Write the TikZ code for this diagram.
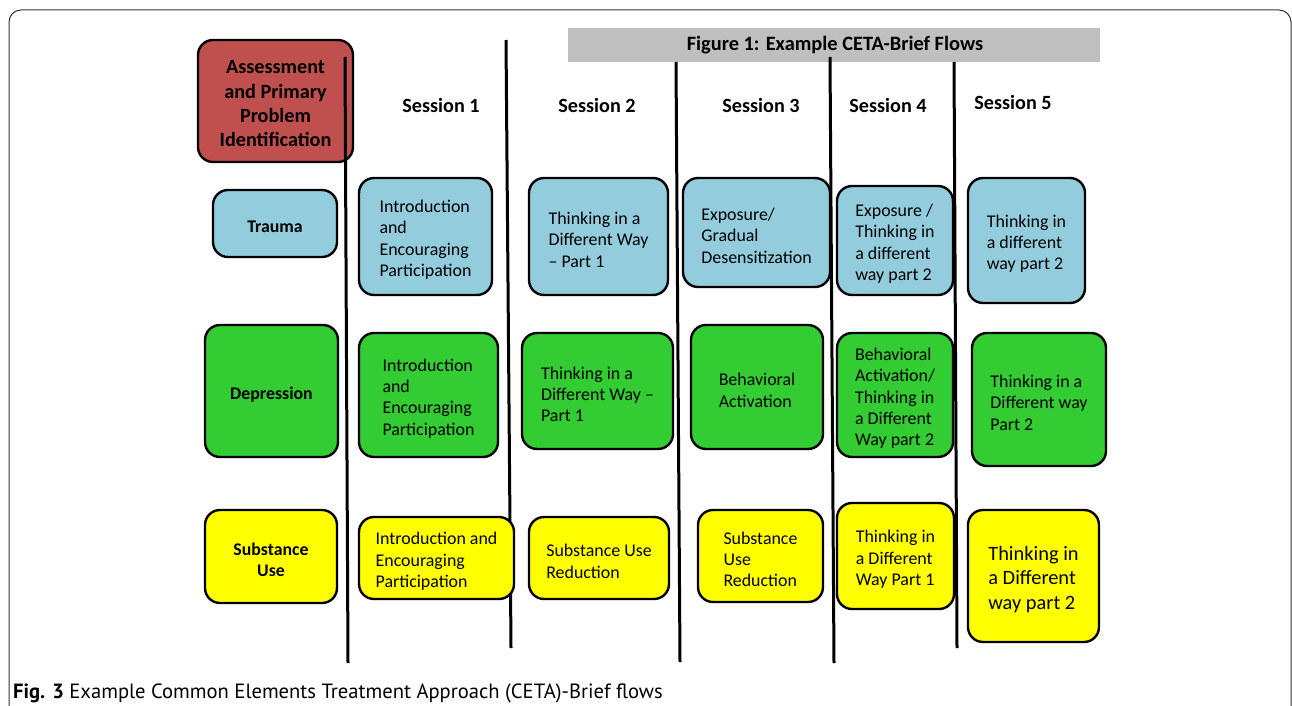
\documentclass[tikz,border=0pt]{standalone}
\usepackage{fontspec}
\setmainfont{Carlito}
\newfontfamily\capfont{PT Sans}
\definecolor{traumablue}{HTML}{93CDDD}
\definecolor{deprgreen}{HTML}{33CC33}
\definecolor{subyellow}{HTML}{FFFF00}
\definecolor{assessred}{HTML}{C0504D}
\definecolor{bargray}{HTML}{BFBFBF}
% extra room above the first line of a card, so its text sits a little lower
\newcommand\cardtop{\rule{0pt}{19pt}}
\begin{document}
\begin{tikzpicture}[x=1pt,y=-1pt,
  card/.style={draw=black, line width=2.4pt, rounded corners=15pt, align=left,
    inner sep=0pt, font=\fontsize{17.9}{21.3}\selectfont},
  rowlabel/.style={card, align=center, font=\fontsize{17.8}{20.5}\selectfont\bfseries},
  bluecard/.style={card, fill=traumablue},
  greencard/.style={card, fill=deprgreen},
  yellowcard/.style={card, fill=subyellow},
  session/.style={font=\fontsize{20.2}{24}\selectfont\bfseries, inner sep=0pt},
  divider/.style={line width=3pt, black}]
\useasboundingbox (0,0) rectangle (1292,706);

% outer frame
\draw[line width=1pt, black!80, rounded corners=12pt] (9,720) -- (9,10) -- (1291,10) -- (1291,720);

% title bar
\node[fill=bargray, minimum width=532pt, minimum height=34pt, inner sep=0pt]
  (bar) at (834,45) {};
\node[font=\fontsize{20.4}{24}\selectfont\bfseries] (title) at (835,45.5) {Figure 1: Example CETA-Brief Flows};

% assessment box
\node[card, fill=assessred, align=center, minimum width=155pt, minimum height=122pt,
  font=\fontsize{20.2}{24.3}\selectfont\bfseries] (assess) at (275.5,101)
  {\cardtop Assessment\\and Primary\\Problem\\Identification};

% session dividers
\coordinate (d1t) at (345,57);  \coordinate (d1b) at (348,663);
\coordinate (d2t) at (506,40);  \coordinate (d2b) at (511,648);
\coordinate (d3t) at (676,62);  \coordinate (d3b) at (680,662);
\coordinate (d4t) at (830,57);  \coordinate (d4b) at (834,663);
\coordinate (d5t) at (954,62);  \coordinate (d5b) at (957,648);
\foreach \i in {1,...,5} \draw[divider] (d\i t) -- (d\i b);

% session headings
\node[session] (s1) at (441,105) {Session 1};
\node[session] (s2) at (597,105) {Session 2};
\node[session] (s3) at (761,105) {Session 3};
\node[session] (s4) at (888,105) {Session 4};
\node[session] (s5) at (1013,102) {Session 5};

% row labels
\node[rowlabel, fill=traumablue, minimum width=124pt, minimum height=67pt] (trauma) at (275,223.5) {\cardtop Trauma};
\node[rowlabel, fill=deprgreen, minimum width=133pt, minimum height=132pt] (depr) at (271.5,391) {\cardtop Depression};
\node[rowlabel, fill=subyellow, minimum width=132pt, minimum height=93pt] (subst) at (271,556.5) {\cardtop Substance\\Use};

% trauma row
\node[bluecard, minimum width=133pt, minimum height=117pt] (t1) at (425.5,236.5)
  {\cardtop Introduction\\and\\Encouraging\\Participation};
\node[bluecard, minimum width=139pt, minimum height=117pt] (t2) at (598.5,236.5)
  {\cardtop Thinking in a\\Different Way\\– Part 1};
\node[bluecard, minimum width=147pt, minimum height=109pt] (t3) at (756.5,232.5)
  {\cardtop Exposure/\\Gradual\\Desensitization};
\node[bluecard, minimum width=116pt, minimum height=109pt] (t4) at (895,240.5)
  {\cardtop Exposure /\\Thinking in\\a different\\way part 2};
\node[bluecard, minimum width=117pt, minimum height=125pt] (t5) at (1026.5,240.5)
  {\cardtop Thinking in\\a different\\way part 2};

% depression row
\node[greencard, minimum width=139pt, minimum height=124pt] (g1) at (428.5,395)
  {\cardtop Introduction\\and\\Encouraging\\Participation};
\node[greencard, minimum width=151pt, minimum height=116pt] (g2) at (597.5,391)
  {\cardtop Thinking in a\\Different Way –\\Part 1};
\node[greencard, minimum width=132pt, minimum height=124pt] (g3) at (757,387)
  {\cardtop Behavioral\\Activation};
\node[greencard, minimum width=116pt, minimum height=124pt] (g4) at (895,395)
  {\cardtop Behavioral\\Activation/\\Thinking in\\a Different\\Way part 2};
\node[greencard, minimum width=134pt, minimum height=133pt] (g5) at (1039,399.5)
  {\cardtop Thinking in a\\Different way\\Part 2};

% substance use row
\node[yellowcard, minimum width=155pt, minimum height=82pt] (y1) at (436.5,558)
  {\cardtop Introduction and\\Encouraging\\Participation};
\node[yellowcard, minimum width=140pt, minimum height=82pt] (y2) at (599,558)
  {\cardtop Substance Use\\Reduction};
\node[yellowcard, minimum width=125pt, minimum height=92pt] (y3) at (760.5,556)
  {\cardtop Substance\\Use\\Reduction};
\node[yellowcard, minimum width=117pt, minimum height=106pt] (y4) at (895.5,556)
  {\cardtop Thinking in\\a Different\\Way Part 1};
\node[yellowcard, minimum width=131pt, minimum height=132pt,
  font=\fontsize{20.4}{24.5}\selectfont] (y5) at (1033.5,576)
  {\rule{0pt}{21pt}Thinking in\\a Different\\way part 2};

% caption
\node[anchor=base west, inner sep=0pt, font=\capfont\fontsize{20.6}{25}\selectfont] (caption) at (13,698)
  {\textbf{Fig. 3} Example Common Elements Treatment Approach (CETA)-Brief flows};
\end{tikzpicture}
\end{document}
